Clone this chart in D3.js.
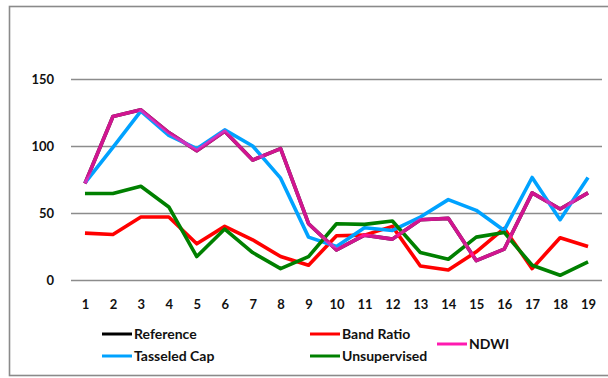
<!DOCTYPE html>
<html>
<head>
<meta charset="utf-8">
<script src="https://cdn.jsdelivr.net/npm/d3@7/dist/d3.min.js"></script>
<style>
  html, body { margin: 0; padding: 0; background: #fff; }
  svg { display: block; }
  text { font-family: Lato, "Open Sans", sans-serif; font-weight: bold; fill: #111; }
</style>
</head>
<body>
<svg id="chart" width="608" height="378"></svg>
<script>
// Sites 1..19 and the water-area estimates from each method
const categories = d3.range(1, 20).map(String);
const reference    = [72, 122, 127, 110, 96.5, 111, 89.5, 98, 42, 22.5, 33.5, 30.5, 45, 46, 14.5, 23, 65, 53, 65];
const ndwi         = [72, 122, 127, 110, 96.5, 111, 89.5, 98, 42, 22.5, 33.5, 30.5, 45, 46, 14.5, 23, 65, 53, 65];
const bandRatio    = [35, 34, 47, 47, 27, 40, 30, 17.5, 11, 33, 33.5, 40, 10.5, 7.5, 21, 38.5, 8.5, 31.5, 25];
const tasseledCap  = [72.5, 99, 126, 108, 98, 112, 100, 76, 32, 25, 39, 37, 47, 60, 52, 37, 76.5, 45, 76.5];
const unsupervised = [64.5, 64.5, 70, 54.5, 17.5, 38, 20.5, 8.5, 17.5, 42, 41.5, 44, 20.5, 15.5, 32, 35.5, 11, 3.5, 13.5];
const yTicks = [0, 50, 100, 150];

const series = [
  { name: "Reference",    values: reference,    color: "#000000", opacity: 1 },
  { name: "Band Ratio",   values: bandRatio,    color: "#ff0000", opacity: 1 },
  { name: "Tasseled Cap", values: tasseledCap,  color: "#00a2ff", opacity: 1 },
  { name: "Unsupervised", values: unsupervised, color: "#008000", opacity: 1 },
  { name: "NDWI",         values: ndwi,         color: "#ff1ab0", opacity: 0.82 }
];

const svg = d3.select("#chart");

// outer chart frame
svg.append("rect")
  .attr("x", 9.5).attr("y", 6.5).attr("width", 640).attr("height", 369)
  .attr("fill", "#fff").attr("stroke", "#8a8a8a").attr("stroke-width", 1.6);

const plot = { left: 71, right: 602, top: 79, bottom: 280 };

const x = d3.scalePoint().domain(categories)
  .range([plot.left, plot.right]).padding(0.5);
const y = d3.scaleLinear().domain([0, 150]).range([plot.bottom, plot.top]);

// horizontal gridlines + y labels
const yAxis = d3.axisLeft(y).tickValues(yTicks)
  .tickSize(-(plot.right - plot.left)).tickPadding(17).tickFormat(d3.format("d"));
const gy = svg.append("g").attr("transform", `translate(${plot.left},0)`).call(yAxis);
gy.select(".domain").remove();
gy.selectAll(".tick line").attr("stroke", "#8c8c8c").attr("stroke-width", 1.6);
gy.selectAll(".tick text").attr("font-size", 13).attr("fill", "#111");

// x labels
const xAxis = d3.axisBottom(x).tickSize(0).tickPadding(20);
const gx = svg.append("g").attr("transform", `translate(0,${plot.bottom})`).call(xAxis);
gx.select(".domain").remove();
gx.selectAll(".tick text").attr("font-size", 13).attr("fill", "#111");

// series lines
const line = d3.line().x((d, i) => x(categories[i])).y(d => y(d));
svg.append("g").selectAll("path").data(series).join("path")
  .attr("d", d => line(d.values))
  .attr("fill", "none")
  .attr("stroke", d => d.color)
  .attr("stroke-opacity", d => d.opacity)
  .attr("stroke-width", 3.6)
  .attr("stroke-linejoin", "round");

// legend
const legendItems = [
  { s: series[0], x: 102, y: 334 },
  { s: series[1], x: 310, y: 334 },
  { s: series[4], x: 437, y: 344 },
  { s: series[2], x: 102, y: 356 },
  { s: series[3], x: 310, y: 356 }
];
const lg = svg.append("g").selectAll("g").data(legendItems).join("g")
  .attr("transform", d => `translate(${d.x},${d.y})`);
lg.append("line").attr("x1", 0).attr("x2", 30).attr("y1", 0).attr("y2", 0)
  .attr("stroke", d => d.s.color).attr("stroke-width", 3);
lg.append("text").attr("x", 32).attr("y", 0).attr("dy", "0.35em")
  .attr("font-size", 14).text(d => d.s.name);
</script>
</body>
</html>
